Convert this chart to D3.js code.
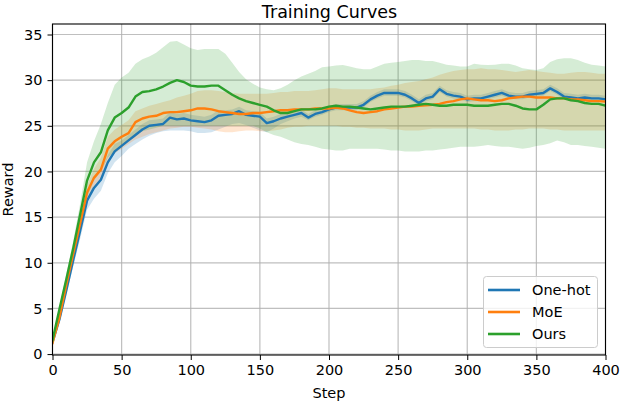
<!DOCTYPE html>
<html>
<head>
<meta charset="utf-8">
<script src="https://cdn.jsdelivr.net/npm/d3@7"></script>
<style>
  html, body { margin: 0; padding: 0; background: #fff; }
  svg { display: block; font-family: "DejaVu Sans", sans-serif; }
</style>
</head>
<body>
<svg id="chart" width="621" height="404"></svg>
<script>
// ---- data (every 5 steps) ----
const steps = d3.range(0, 401, 5);
const seriesNames = ["One-hot", "MoE", "Ours"];
const xTicks = [0, 50, 100, 150, 200, 250, 300, 350, 400];
const yTicks = [0, 5, 10, 15, 20, 25, 30, 35];

const oneHot = [1.3,3.8,7.0,10.3,13.5,16.8,18.2,19.1,21.0,22.2,22.8,
  23.4,24.0,24.6,25.0,25.1,25.2,25.9,25.7,25.8,25.6,
  25.5,25.4,25.6,26.1,26.2,26.3,26.6,26.2,26.1,26.0,
  25.3,25.5,25.8,26.0,26.2,26.4,25.9,26.3,26.5,26.8,
  27.0,27.0,27.0,27.0,27.3,27.9,28.3,28.6,28.6,28.6,
  28.4,28.0,27.5,28.0,28.2,29.0,28.5,28.3,28.2,27.9,
  28.0,28.0,28.2,28.4,28.6,28.3,28.2,28.2,28.4,28.5,
  28.6,29.1,28.7,28.2,28.1,28.0,28.1,28.0,28.0,27.9];
const oneHotLow = [1.1,3.4,6.5,9.6,12.6,15.8,17.0,17.9,19.8,21.0,21.7,
  22.5,23.0,23.5,23.9,24.2,24.4,24.5,24.5,24.5,24.4,
  24.2,24.2,24.3,24.6,24.9,25.2,25.3,25.1,24.8,24.5,
  24.3,24.7,25.2,25.5,25.8,26.0,25.6,26.0,26.2,26.5,
  26.7,26.7,26.7,26.7,27.0,27.6,28.0,28.3,28.3,28.3,
  28.1,27.7,27.2,27.7,27.9,28.7,28.2,28.0,27.9,27.6,
  27.7,27.7,27.9,28.1,28.3,28.0,27.9,27.9,28.1,28.2,
  28.3,28.8,28.4,27.9,27.8,27.7,27.8,27.7,27.7,27.6];
const oneHotHigh = [1.5,4.2,7.5,10.9,14.2,17.6,19.0,20.0,21.8,23.0,23.4,
  24.0,24.6,25.2,25.6,25.7,25.8,26.5,26.3,26.4,26.2,
  26.1,26.0,26.2,26.7,26.7,26.8,27.1,26.7,26.6,26.5,
  25.8,26.0,26.3,26.4,26.6,26.8,26.3,26.7,26.9,27.2,
  27.4,27.4,27.4,27.4,27.7,28.3,28.7,29.0,29.0,29.0,
  28.8,28.4,27.9,28.4,28.6,29.4,28.9,28.7,28.6,28.3,
  28.4,28.4,28.6,28.8,29.0,28.7,28.6,28.6,28.8,28.9,
  29.0,29.5,29.1,28.6,28.5,28.4,28.5,28.4,28.4,28.3];

const moe = [1.2,4.0,7.6,11.0,14.3,17.7,19.3,20.2,22.5,23.3,23.8,
  24.2,25.4,25.8,26.0,26.1,26.4,26.5,26.5,26.6,26.7,
  26.9,26.9,26.8,26.6,26.5,26.4,26.3,26.3,26.4,26.4,
  26.5,26.6,26.7,26.7,26.8,26.8,26.8,26.9,26.9,26.9,
  27.0,26.9,26.7,26.5,26.4,26.5,26.6,26.8,26.9,27.0,
  27.1,27.1,27.2,27.25,27.3,27.4,27.6,27.7,27.9,28.0,
  27.9,27.8,27.8,27.7,27.8,28.0,28.1,28.2,28.2,28.1,
  28.1,28.1,28.0,28.0,27.9,27.9,27.8,27.7,27.7,27.65];
const moeLow = [1.1,3.8,7.2,10.5,13.6,16.9,18.3,19.0,21.2,22.0,22.5,
  23.0,23.5,23.8,24.1,24.3,24.5,24.7,24.8,24.9,24.9,
  24.8,24.7,24.6,24.4,24.3,24.3,24.4,24.5,24.5,24.4,
  24.4,24.5,24.6,24.8,24.9,24.9,25.0,25.0,25.0,25.0,
  25.0,24.9,24.9,24.8,24.8,24.7,24.7,24.7,24.6,24.6,
  24.5,24.5,24.5,24.6,24.7,24.7,24.7,24.7,24.7,24.7,
  24.7,24.6,24.6,24.5,24.5,24.5,24.6,24.6,24.7,24.7,
  24.7,24.6,24.6,24.5,24.5,24.5,24.5,24.5,24.5,24.5];
const moeHigh = [1.3,4.2,8.0,11.5,15.0,18.5,20.3,21.5,23.8,24.6,25.1,
  25.6,26.6,26.9,27.2,27.4,27.6,27.8,28.1,28.3,28.5,
  28.8,28.9,28.9,28.8,28.7,28.6,28.5,28.5,28.5,28.5,
  28.5,28.6,28.7,28.7,28.8,28.8,28.8,28.9,29.0,29.1,
  29.1,29.0,29.0,29.0,29.0,29.0,29.1,29.2,29.4,29.5,
  29.7,29.8,29.9,30.1,30.3,30.6,30.8,31.0,31.1,31.2,
  31.2,31.3,31.2,31.2,31.1,31.0,30.9,31.0,31.1,31.0,
  30.9,30.8,30.7,30.7,30.8,30.9,30.9,30.8,30.7,30.7];

const ours = [1.5,4.9,8.2,11.6,15.3,19.0,21.0,22.1,24.5,25.9,26.4,
  27.0,28.2,28.7,28.8,29.0,29.3,29.7,30.0,29.8,29.4,
  29.3,29.3,29.4,29.4,28.9,28.4,28.0,27.7,27.5,27.3,
  27.1,26.7,26.4,26.4,26.6,26.8,26.8,26.8,26.9,27.1,
  27.2,27.1,27.1,27.0,26.9,26.8,26.9,27.0,27.1,27.1,
  27.1,27.2,27.3,27.4,27.3,27.2,27.2,27.3,27.3,27.3,
  27.2,27.2,27.2,27.3,27.4,27.4,27.2,26.9,26.8,26.8,
  27.3,27.9,28.0,28.0,27.8,27.7,27.5,27.4,27.4,27.2];
const oursLow = [1.4,4.2,7.6,10.8,14.2,17.2,19.0,20.0,21.5,22.2,22.8,
  23.5,24.0,24.4,24.6,24.8,25.0,25.0,25.0,25.0,25.0,
  25.0,25.0,25.0,25.0,25.0,25.0,25.0,25.0,25.0,24.7,
  24.3,24.0,23.8,23.5,23.2,23.0,22.9,22.7,22.5,22.4,
  22.3,22.3,22.5,22.5,22.5,22.5,22.5,22.4,22.3,22.3,
  22.2,22.2,22.2,22.3,22.3,22.4,22.5,22.6,22.7,22.7,
  22.7,22.8,22.9,22.8,22.7,22.7,22.6,22.5,22.6,22.8,
  22.9,23.1,23.4,23.2,22.9,22.9,22.8,22.7,22.6,22.5];
const oursHigh = [1.6,5.2,8.8,12.4,16.5,21.0,23.3,25.2,27.5,29.5,30.3,
  30.8,31.8,32.3,32.6,33.0,33.6,34.2,34.3,33.9,33.5,
  33.3,33.4,33.4,33.4,32.9,31.9,30.9,30.1,29.6,29.2,
  29.0,28.9,29.1,29.5,30.0,30.4,30.7,31.0,31.4,31.5,
  31.6,31.65,31.5,31.3,31.2,31.2,31.5,31.8,31.9,32.0,
  32.1,32.2,32.2,32.1,32.1,31.9,31.7,31.6,31.5,31.5,
  31.8,31.7,31.65,31.7,31.8,31.8,31.6,31.3,31.2,31.1,
  31.3,32.0,32.3,32.4,32.4,32.2,31.9,31.7,31.6,31.5];

const colors = ["#1f77b4", "#ff7f0e", "#2ca02c"];

// ---- drawing ----
const svg = d3.select("#chart");
const L = 52.5, R = 605.5, T = 24, B = 355;
const x = d3.scaleLinear().domain([0, 400]).range([L, R]);
const y = d3.scaleLinear().domain([-0.1, 36.15]).range([B, T]);

const series = [
  {name: seriesNames[0], mean: oneHot, lo: oneHotLow, hi: oneHotHigh, color: colors[0]},
  {name: seriesNames[1], mean: moe, lo: moeLow, hi: moeHigh, color: colors[1]},
  {name: seriesNames[2], mean: ours, lo: oursLow, hi: oursHigh, color: colors[2]}
];

// grid
const grid = svg.append("g");
grid.selectAll(".gx").data(xTicks).join("line")
  .attr("x1", d => x(d)).attr("x2", d => x(d)).attr("y1", T).attr("y2", B)
  .attr("stroke", "#b0b0b0").attr("stroke-width", 1.2).attr("opacity", 0.8);
grid.selectAll(".gy").data(yTicks).join("line")
  .attr("y1", d => y(d)).attr("y2", d => y(d)).attr("x1", L).attr("x2", R)
  .attr("stroke", "#b0b0b0").attr("stroke-width", 1.2).attr("opacity", 0.8);

const clip = svg.append("clipPath").attr("id", "clip").append("rect")
  .attr("x", L).attr("y", T).attr("width", R - L).attr("height", B - T);
const plot = svg.append("g").attr("clip-path", "url(#clip)");

const area = (s) => d3.area()
  .x((d, i) => x(steps[i]))
  .y0((d, i) => y(s.lo[i]))
  .y1((d, i) => y(s.hi[i]));
const line = (s) => d3.line()
  .x((d, i) => x(steps[i]))
  .y((d, i) => y(s.mean[i]));

series.forEach(s => {
  plot.append("path").attr("d", area(s)(steps))
    .attr("fill", s.color).attr("fill-opacity", 0.2).attr("stroke", "none");
});
series.forEach(s => {
  plot.append("path").attr("d", line(s)(steps))
    .attr("fill", "none").attr("stroke", s.color).attr("stroke-width", 2.4)
    .attr("stroke-linejoin", "round").attr("stroke-linecap", "square");
});

// axes
const xAxis = svg.append("g").attr("transform", `translate(0,${B})`)
  .call(d3.axisBottom(x).tickValues(xTicks).tickSize(5).tickPadding(5).tickFormat(d3.format("d")));
const yAxis = svg.append("g").attr("transform", `translate(${L},0)`)
  .call(d3.axisLeft(y).tickValues(yTicks).tickSize(5).tickPadding(5).tickFormat(d3.format("d")));
[xAxis, yAxis].forEach(a => {
  a.select(".domain").remove();
  a.selectAll("line").attr("stroke", "#000").attr("stroke-width", 1);
  a.selectAll("text").attr("font-family", "DejaVu Sans, sans-serif")
    .attr("font-size", 14.5).attr("fill", "#000");
});

// frame
svg.append("rect").attr("x", L).attr("y", T).attr("width", R - L).attr("height", B - T)
  .attr("fill", "none").attr("stroke", "#000").attr("stroke-width", 1.1);

// labels
svg.append("text").attr("x", (L + R) / 2 + 0.5).attr("y", 17.5).attr("text-anchor", "middle")
  .attr("font-size", 17.5).text("Training Curves");
svg.append("text").attr("x", (L + R) / 2).attr("y", 398).attr("text-anchor", "middle")
  .attr("font-size", 14.5).text("Step");
svg.append("text").attr("transform", `translate(13,${(T + B) / 2}) rotate(-90)`)
  .attr("text-anchor", "middle").attr("font-size", 14.5).text("Reward");

// legend
const lg = svg.append("g");
lg.append("rect").attr("x", 483.5).attr("y", 276.5).attr("width", 114).attr("height", 71)
  .attr("rx", 3).attr("fill", "#fff").attr("fill-opacity", 0.8)
  .attr("stroke", "#cccccc").attr("stroke-width", 1);
series.forEach((s, i) => {
  const yy = 290 + i * 22;
  lg.append("line").attr("x1", 488).attr("x2", 520).attr("y1", yy).attr("y2", yy)
    .attr("stroke", s.color).attr("stroke-width", 2.6);
  lg.append("text").attr("x", 532).attr("y", yy + 5).attr("font-size", 14.5).text(s.name);
});
</script>
</body>
</html>
